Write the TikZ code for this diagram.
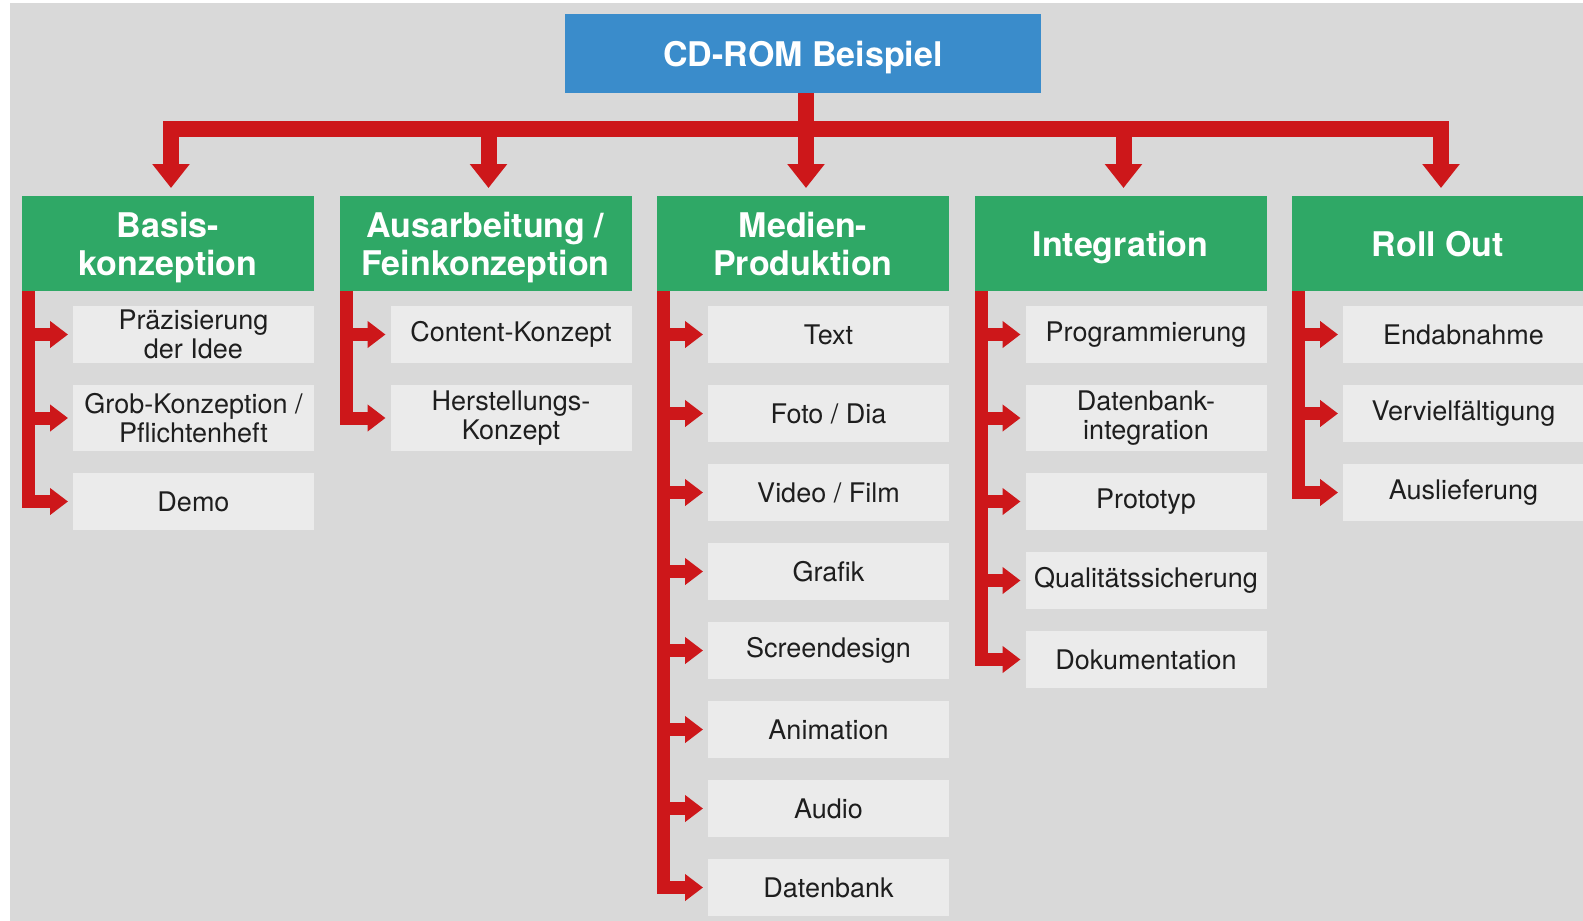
\documentclass[tikz,border=0pt]{standalone}
\usepackage{fontspec}
\setmainfont{TeX Gyre Heros}
\usetikzlibrary{arrows.meta, positioning}
\definecolor{bggray}{HTML}{D9D9D9}
\definecolor{taskgray}{HTML}{EBEBEB}
\definecolor{phasegreen}{HTML}{2FA866}
\definecolor{topblue}{HTML}{3A8CCB}
\definecolor{arrowred}{HTML}{CD171A}
\definecolor{textdark}{HTML}{1E1E1E}

\begin{document}
\begin{tikzpicture}[x=1pt, y=-1pt, node distance=22pt,
    top/.style={fill=topblue, text=white, font=\fontsize{34}{38}\selectfont\bfseries,
        text depth=0pt, minimum width=476pt, minimum height=79pt, inner sep=0pt, outer sep=0pt},
    phase/.style={fill=phasegreen, text=white, font=\fontsize{34}{38}\selectfont\bfseries,
        text depth=0pt, align=center, minimum width=292pt, minimum height=95pt, inner sep=0pt, outer sep=0pt},
    task/.style={fill=taskgray, text=textdark, font=\fontsize{27}{28.5}\selectfont,
        align=center, minimum width=241pt, minimum height=57pt, inner sep=0pt, outer sep=0pt},
    tasktwo/.style={task, minimum height=66pt},
    trunk/.style={draw=arrowred, line width=16pt},
    trunkarrow/.style={trunk, -{Triangle[length=24pt,width=36pt]}, shorten >=8pt},
    rail/.style={draw=arrowred, line width=13pt, line join=miter},
    feed/.style={rail, -{Triangle[length=18pt,width=26pt]}, shorten >=5pt}]
                \fill[white] (0,0) rectangle (1583,921);
                \fill[bggray] (10,3) rectangle (1583,921);
                \useasboundingbox (0,0) rectangle (1583,921);

                \node[top] (cdrom) at (803,53.5) {CD-ROM Beispiel};
                \node[phase] (basis) at (168,243.5) {Basis-\\konzeption};
                \node[phase, right=25.5pt of basis] (ausarb) {Ausarbeitung /\\Feinkonzeption};
                \node[phase, right=25.5pt of ausarb] (medien) {Medien-\\Produktion};
                \node[phase, right=25.5pt of medien] (integ) {Integration};
                \node[phase, right=25.5pt of integ] (rollout) {Roll Out};

                \node[task, below=15pt of basis.south east, anchor=north east] (praez) {Präzisierung\\der Idee};
                \node[tasktwo, below=of praez] (grob) {Grob-Konzeption /\\Pflichtenheft};
                \node[task, below=of grob] (demo) {Demo};

                \node[task, below=15pt of ausarb.south east, anchor=north east] (content) {Content-Konzept};
                \node[tasktwo, below=of content] (herst) {Herstellungs-\\Konzept};

                \node[task, below=15pt of medien.south east, anchor=north east] (txt) {Text};
                \node[task, below=of txt] (foto) {Foto / Dia};
                \node[task, below=of foto] (video) {Video / Film};
                \node[task, below=of video] (grafik) {Grafik};
                \node[task, below=of grafik] (screen) {Screendesign};
                \node[task, below=of screen] (anim) {Animation};
                \node[task, below=of anim] (audio) {Audio};
                \node[task, below=of audio] (dbank) {Datenbank};

                \node[task, below=15pt of integ.south east, anchor=north east] (prog) {Programmierung};
                \node[tasktwo, below=of prog] (dbint) {Datenbank-\\integration};
                \node[task, below=of dbint] (proto) {Prototyp};
                \node[task, below=of proto] (qs) {Qualitätssicherung};
                \node[task, below=of qs] (doku) {Dokumentation};

                \node[task, below=15pt of rollout.south east, anchor=north east] (endab) {Endabnahme};
                \node[task, below=of endab] (verv) {Vervielfältigung};
                \node[task, below=of verv] (ausl) {Auslieferung};

                \coordinate (bar) at (806,129);
                \coordinate (d1) at ([xshift=3pt]basis.north);
                \coordinate (d2) at ([xshift=3pt]ausarb.north);
                \coordinate (d3) at ([xshift=3pt]medien.north);
                \coordinate (d4) at ([xshift=3pt]integ.north);
                \coordinate (d5) at ([xshift=3pt]rollout.north);
                \draw[trunk, line cap=rect] (d1 |- bar) -- (d5 |- bar);
                \draw[trunkarrow] (d3 |- cdrom.south) -- (d3);
                \path (d1 |- bar) edge[trunkarrow] (d1)
                      (d2 |- bar) edge[trunkarrow] (d2)
                      (d4 |- bar) edge[trunkarrow] (d4)
                      (d5 |- bar) edge[trunkarrow] (d5);

                \coordinate (r1) at ([xshift=6.5pt]basis.south west);
                \coordinate (r2) at ([xshift=6.5pt]ausarb.south west);
                \coordinate (r3) at ([xshift=6.5pt]medien.south west);
                \coordinate (r4) at ([xshift=6.5pt]integ.south west);
                \coordinate (r5) at ([xshift=6.5pt]rollout.south west);

                \draw[feed] (r1) -- (r1 |- demo.west) -- (demo.west);
                \draw[feed] (r2) -- (r2 |- herst.west) -- (herst.west);
                \draw[feed] (r3) -- (r3 |- dbank.west) -- (dbank.west);
                \draw[feed] (r4) -- (r4 |- doku.west) -- (doku.west);
                \draw[feed] (r5) -- (r5 |- ausl.west) -- (ausl.west);
                \path (r1 |- praez.west) edge[feed] (praez.west)
                      (r1 |- grob.west) edge[feed] (grob.west)
                      (r2 |- content.west) edge[feed] (content.west)
                      (r3 |- txt.west) edge[feed] (txt.west)
                      (r3 |- foto.west) edge[feed] (foto.west)
                      (r3 |- video.west) edge[feed] (video.west)
                      (r3 |- grafik.west) edge[feed] (grafik.west)
                      (r3 |- screen.west) edge[feed] (screen.west)
                      (r3 |- anim.west) edge[feed] (anim.west)
                      (r3 |- audio.west) edge[feed] (audio.west)
                      (r4 |- prog.west) edge[feed] (prog.west)
                      (r4 |- dbint.west) edge[feed] (dbint.west)
                      (r4 |- proto.west) edge[feed] (proto.west)
                      (r4 |- qs.west) edge[feed] (qs.west)
                      (r5 |- endab.west) edge[feed] (endab.west)
                      (r5 |- verv.west) edge[feed] (verv.west);
            \end{tikzpicture}
\end{document}
